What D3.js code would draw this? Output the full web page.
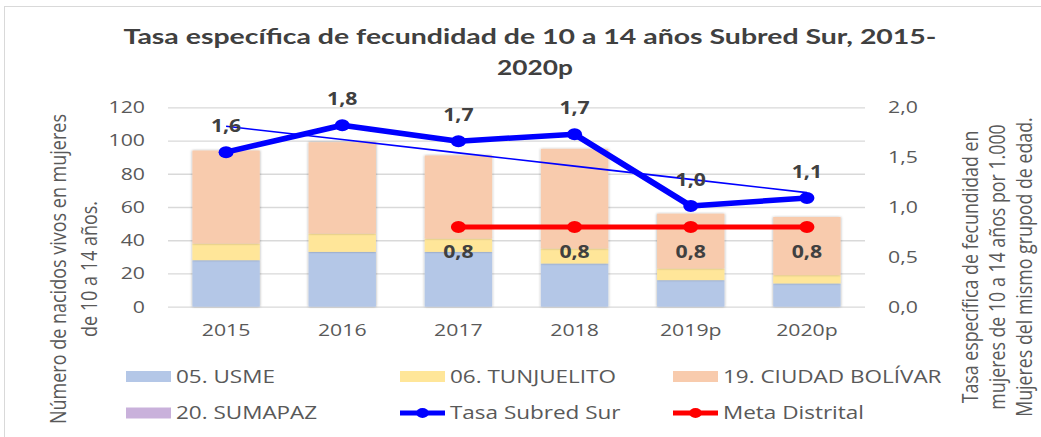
<!DOCTYPE html>
<html><head><meta charset="utf-8">
<script src="https://cdn.jsdelivr.net/npm/d3@7"></script>
<style>html,body{margin:0;padding:0;background:#fff;overflow:hidden}</style>
</head><body><svg id="c" width="1041" height="437"></svg>
<script>
const years = ["2015","2016","2017","2018","2019p","2020p"];
const usme = [28,33,33,26,16,14];
const tunjuelito = [10,11,8,9,7,5];
const ciudadBolivar = [56,55,50,60,33,35];
const sumapaz = [0,0,0,0,0,0];
const tasa = [1.55,1.82,1.66,1.73,1.01,1.09];
const tasaLabels = ["1,6","1,8","1,7","1,7","1,0","1,1"];
const meta = [null,null,0.8,0.8,0.8,0.8];
const metaLabels = ["","","0,8","0,8","0,8","0,8"];
const leftTicks = [0,20,40,60,80,100,120];
const rightTicks = [0,0.5,1,1.5,2];
const barNames = ["05. USME","06. TUNJUELITO","19. CIUDAD BOLÍVAR","20. SUMAPAZ"];
const barColors = ["#b4c7e7","#ffe699","#f8cbad","#c9b1db"];
const lineNames = ["Tasa Subred Sur","Meta Distrital"];
const lineColors = ["#0000ff","#ff0000"];
const titleLines = ["Tasa específica de fecundidad de 10 a 14 años Subred Sur, 2015-","2020p"];
const leftTitle = ["Número de nacidos vivos en mujeres","de 10 a 14 años."];
const rightTitle = ["Tasa específica de fecundidad en","mujeres de 10 a 14 años por 1.000","Mujeres del mismo grupod de edad."];

const sx = 1.25;
const X = px => px / sx;
const svg = d3.select("#c");
svg.append("rect").attr("x",4.5).attr("y",6.5).attr("width",1045).attr("height",440)
  .attr("fill","#fff").attr("stroke","#d9d9d9");
const defs = svg.append("defs");
const f = defs.append("filter").attr("id","sh").attr("x","-20%").attr("y","-20%").attr("width","140%").attr("height","140%");
f.append("feDropShadow").attr("dx",0).attr("dy",0).attr("stdDeviation",1.3).attr("flood-color","#000").attr("flood-opacity",0.35);

const g = svg.append("g").attr("transform",`scale(${sx},1)`);
const plotL = X(168), plotR = X(865), plotT = 107.3, plotB = 306.7;
const x = d3.scaleBand().domain(years).range([plotL,plotR]).paddingInner(0.42).paddingOuter(0.21);
const y = d3.scaleLinear().domain([0,120]).range([plotB,plotT]);
const y2 = d3.scaleLinear().domain([0,2]).range([plotB,plotT]);
const cx = d => x(d) + x.bandwidth()/2;
const tickFont = "'Open Sans', sans-serif";

// grid + left axis
const ga = g.append("g").attr("transform",`translate(${plotL},0)`)
  .call(d3.axisLeft(y).tickValues(leftTicks).tickSize(-(plotR-plotL)).tickPadding(X(23)));
ga.select(".domain").remove();
ga.selectAll("line").attr("stroke","#d9d9d9").attr("stroke-width",1.3);
ga.selectAll("text").attr("fill","#595959").style("font-family",tickFont).style("font-size","17px");

// right axis
const gr = g.append("g").attr("transform",`translate(${plotR},0)`)
  .call(d3.axisRight(y2).tickValues(rightTicks).tickSize(0).tickPadding(X(23))
    .tickFormat(d => d.toFixed(1).replace(".",",")));
gr.select(".domain").remove();
gr.selectAll("text").attr("fill","#595959").style("font-family",tickFont).style("font-size","17px");

// bottom axis
const gb = g.append("g").attr("transform",`translate(0,${plotB})`)
  .call(d3.axisBottom(x).tickSize(0).tickPadding(17));
gb.select(".domain").remove();
gb.selectAll("text").attr("fill","#595959").style("font-family",tickFont).style("font-size","17px");

// stacked bars
const rows = years.map((yr,i) => ({year:yr, [barNames[0]]:usme[i], [barNames[1]]:tunjuelito[i], [barNames[2]]:ciudadBolivar[i], [barNames[3]]:sumapaz[i]}));
const stack = d3.stack().keys(barNames)(rows);
const gbars = g.append("g");
stack.forEach((layer, li) => {
  gbars.append("g").attr("filter","url(#sh)").selectAll("rect").data(layer).join("rect")
    .attr("x", d => x(d.data.year)).attr("width", x.bandwidth())
    .attr("y", d => y(d[1])).attr("height", d => y(d[0]) - y(d[1]))
    .attr("fill", barColors[li]);
});

// trend line (least squares on tasa)
const n = tasa.length, mx = (n-1)/2, my = d3.mean(tasa);
const slope = d3.sum(tasa, (v,i) => (i-mx)*(v-my)) / d3.sum(tasa, (v,i) => (i-mx)*(i-mx));
const icpt = my - slope*mx;
g.append("path").datum(years)
  .attr("d", d3.line().x(d => cx(d)).y((d,i) => y2(icpt + slope*i)))
  .attr("fill","none").attr("stroke","#0000ff").attr("stroke-width",1.6);

// meta line
const metaData = years.map((yr,i) => ({yr, v:meta[i], lab:metaLabels[i]})).filter(d => d.v != null);
g.append("path").datum(metaData)
  .attr("d", d3.line().x(d => cx(d.yr)).y(d => y2(d.v)))
  .attr("fill","none").attr("stroke",lineColors[1]).attr("stroke-width",5);
g.selectAll(".mdot").data(metaData).join("circle").attr("class","mdot")
  .attr("cx", d => cx(d.yr)).attr("cy", d => y2(d.v)).attr("r",6).attr("fill",lineColors[1]);

// tasa line
const tasaData = years.map((yr,i) => ({yr, v:tasa[i], lab:tasaLabels[i]}));
g.append("path").datum(tasaData)
  .attr("d", d3.line().x(d => cx(d.yr)).y(d => y2(d.v)))
  .attr("fill","none").attr("stroke",lineColors[0]).attr("stroke-width",5.5).attr("stroke-linejoin","round");
g.selectAll(".tdot").data(tasaData).join("circle").attr("class","tdot")
  .attr("cx", d => cx(d.yr)).attr("cy", d => y2(d.v)).attr("r",6).attr("fill",lineColors[0]);

// labels
const labStyle = s => s.attr("text-anchor","middle").attr("fill","#404040")
  .style("font-family",tickFont).style("font-weight","bold").style("font-size","17px");
g.selectAll(".tlab").data(tasaData).join("text").attr("class","tlab")
  .attr("x", d => cx(d.yr)).attr("y", d => y2(d.v) - 20).text(d => d.lab).call(labStyle);
g.selectAll(".mlab").data(metaData).join("text").attr("class","mlab")
  .attr("x", d => cx(d.yr)).attr("y", d => y2(d.v) + 31).text(d => d.lab).call(labStyle);

// title
g.selectAll(".title").data(titleLines).join("text").attr("class","title")
  .attr("x", (d,i) => X(i ? 535 : 530)).attr("y", (d,i) => i ? 75 : 44)
  .attr("text-anchor","middle").attr("fill","#404040")
  .style("font-family","Lato, sans-serif").style("font-weight","bold").style("font-size","21px")
  .each(function(d,i){ if (i === 0) d3.select(this).attr("textLength", X(813)).attr("lengthAdjust","spacingAndGlyphs"); })
  .text(d => d);

// axis titles
const axTitle = (lines, xs, cy, fs) => lines.forEach((t,i) => {
  g.append("text").attr("transform",`translate(${X(xs[i])},${cy}) rotate(-90)`)
    .attr("text-anchor","middle").attr("dominant-baseline","central").attr("fill","#595959")
    .style("font-family",tickFont).style("font-size",fs).text(t);
});
axTitle(leftTitle, [57,88], 269, "18px");
axTitle(rightTitle, [969,996,1023], 267, "17.8px");

// legend
const legItems = [
  {name:barNames[0], type:"rect", color:barColors[0], px:126, py:376.5},
  {name:barNames[1], type:"rect", color:barColors[1], px:400, py:376.5},
  {name:barNames[2], type:"rect", color:barColors[2], px:673, py:376.5},
  {name:barNames[3], type:"rect", color:barColors[3], px:126, py:413},
  {name:lineNames[0], type:"line", color:lineColors[0], px:400, py:413},
  {name:lineNames[1], type:"line", color:lineColors[1], px:673, py:413}
];
const lg = g.append("g");
legItems.forEach(it => {
  const x0 = X(it.px), w = X(45);
  if (it.type === "rect") {
    lg.append("rect").attr("x",x0).attr("y",it.py-5.5).attr("width",w).attr("height",11).attr("fill",it.color);
  } else {
    lg.append("line").attr("x1",x0).attr("x2",x0+w).attr("y1",it.py).attr("y2",it.py)
      .attr("stroke",it.color).attr("stroke-width",5);
    lg.append("circle").attr("cx",x0+w/2).attr("cy",it.py).attr("r",5).attr("fill",it.color);
  }
  lg.append("text").attr("x",x0+X(50)).attr("y",it.py+6.5).attr("fill","#595959")
    .style("font-family",tickFont).style("font-size","18px").text(it.name);
});
</script></body></html>
